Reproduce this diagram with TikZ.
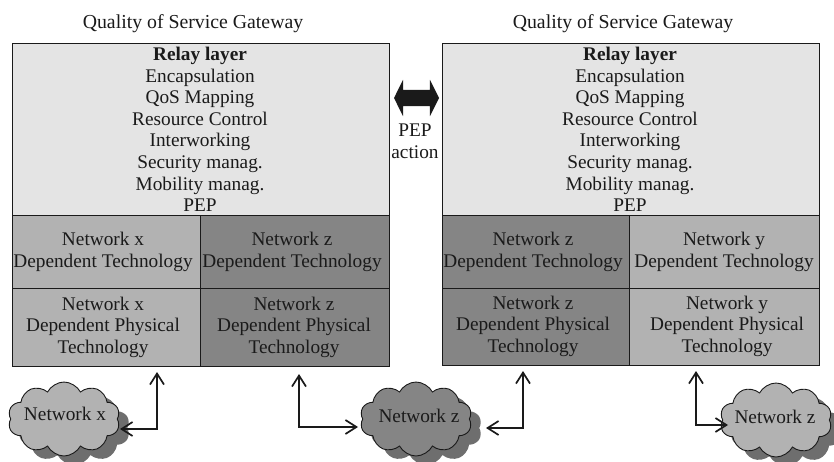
\documentclass[tikz,border=0pt]{standalone}
\usepackage{fontspec}
\setmainfont{Liberation Serif}
\usetikzlibrary{shapes.symbols,shapes.arrows,shapes.geometric,arrows.meta}
\definecolor{relayc}{HTML}{E4E4E4}
\definecolor{lightc}{HTML}{B2B2B2}
\definecolor{darkc}{HTML}{858585}
\definecolor{inkc}{HTML}{1A1A1A}
\definecolor{shadec}{HTML}{6E6E6E}
\tikzset{
  x=1pt,y=-1pt,
  every node/.style={text=inkc,font=\fontsize{19.3}{21.6}\selectfont,inner sep=0pt,align=center},
  panel/.style={draw=inkc,line width=1.2pt,anchor=north west,minimum height=0pt},
  title/.style={font=\fontsize{19.8}{23}\selectfont},
  cloudbase/.style={cloud,cloud puffs=10,cloud puff arc=125,aspect=1.5,minimum width=112pt,minimum height=74pt},
  cloudface/.style={cloudbase,draw=inkc,line width=0.9pt},
  cloudshadow/.style={cloudbase,fill=shadec},
  shadecore/.style={ellipse,fill=shadec,minimum width=95pt,minimum height=62pt},
  link/.style={draw=inkc,line width=1.7pt,{Straight Barb[length=11pt,width=14pt,line width=1.7pt]}-{Straight Barb[length=11pt,width=14pt,line width=1.7pt]}},
}
\newcommand{\panelbox}[6]{% name, x0, y0, x1, y1, fill
  \node[panel,fill=#6,minimum width={(#4)-(#2)},minimum height={(#5)-(#3)}] (#1) at (#2,#3) {};
}
\begin{document}
\begin{tikzpicture}
\useasboundingbox (0,0) rectangle (834,462);
\node[title] (t1) at (193,24) {Quality of Service Gateway};
\node[title] (t2) at (623,24) {Quality of Service Gateway};

% left
\panelbox{la}{12}{43}{389}{215}{relayc}
\panelbox{lb}{12}{215}{199.5}{288}{lightc}
\panelbox{lc}{199.5}{215}{389}{288}{darkc}
\panelbox{ld}{12}{288}{199.5}{366}{lightc}
\panelbox{le}{199.5}{288}{389}{366}{darkc}
% right
\panelbox{ra}{441.5}{43}{819}{215}{relayc}
\panelbox{rb}{441.5}{215}{629}{288}{darkc}
\panelbox{rc}{629}{215}{819}{288}{lightc}
\panelbox{rd}{441.5}{288}{629}{365}{darkc}
\panelbox{re}{629}{288}{819}{365}{lightc}

\node[anchor=north] (lat) at (200,47) {\textbf{Relay layer}\\Encapsulation\\QoS Mapping\\Resource Control\\Interworking\\Security manag.\\Mobility manag.\\PEP};
\node[anchor=north] (rat) at (630,47) {\textbf{Relay layer}\\Encapsulation\\QoS Mapping\\Resource Control\\Interworking\\Security manag.\\Mobility manag.\\PEP};

\node (lbt) at (103,252) {Network x\\Dependent Technology};
\node (lct) at (292,252) {Network z\\Dependent Technology};
\node (ldt) at (103,327) {Network x\\Dependent Physical\\Technology};
\node (let) at (294,327) {Network z\\Dependent Physical\\Technology};
\node (rbt) at (533,252) {Network z\\Dependent Technology};
\node (rct) at (724,252) {Network y\\Dependent Technology};
\node (rdt) at (533,326) {Network z\\Dependent Physical\\Technology};
\node (ret) at (727,326) {Network y\\Dependent Physical\\Technology};

% PEP action arrow
\node[double arrow,fill=inkc,double arrow head extend=10pt,double arrow tip angle=127,minimum height=45pt,text width=0pt] (pa) at (416.5,98) {\rule{0pt}{16pt}};
\node (pt) at (415,141) {PEP\\action};

% clouds
\node[shadecore] (c1k) at (72,426) {};
\node[cloudshadow] (c1s) at (74,428) {};
\node[cloudface,fill=lightc] (c1) at (64,419) {};
\node (c1t) at (65,414) {Network x};
\node[shadecore] (c2k) at (424,426) {};
\node[cloudshadow] (c2s) at (426,428) {};
\node[cloudface,fill=darkc] (c2) at (416,419) {};
\node (c2t) at (419,416) {Network z};
\node[shadecore] (c3k) at (784,427) {};
\node[cloudshadow] (c3s) at (786,429) {};
\node[cloudface,fill=lightc] (c3) at (776,420) {};
\node (c3t) at (775,417) {Network z};

% connectors
\coordinate (a1) at (157,372);\coordinate (a1b) at (120,429);
\coordinate (a2) at (299,374);\coordinate (a2b) at (358,427);
\coordinate (a3) at (523,371);\coordinate (a3b) at (486,428);
\coordinate (a4) at (696,371);\coordinate (a4b) at (728,425);
\draw[link] (a1) |- (a1b);
\draw[link] (a2) |- (a2b);
\draw[link] (a3) |- (a3b);
\draw[link] (a4) |- (a4b);
\end{tikzpicture}
\end{document}
